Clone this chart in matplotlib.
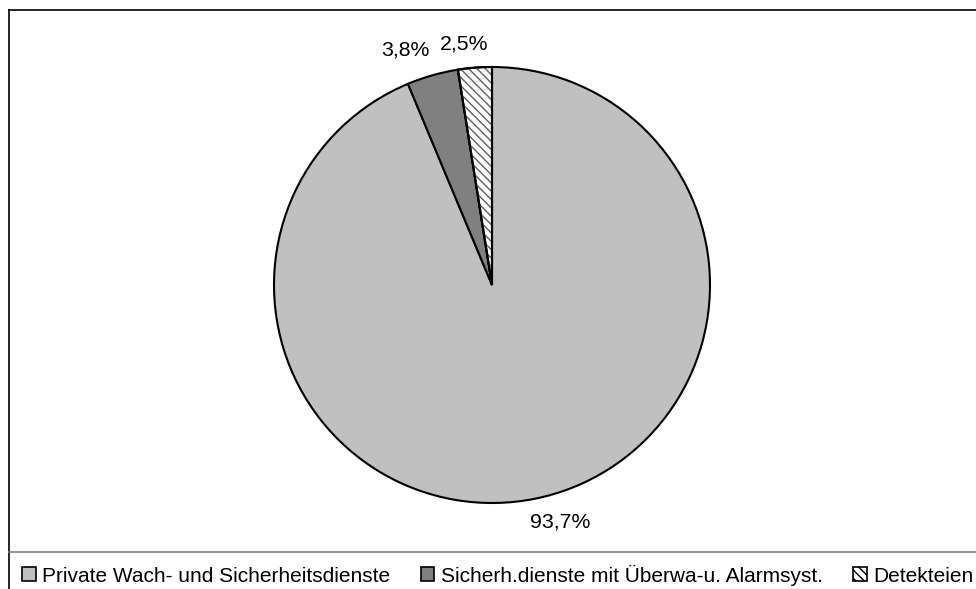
"""Pie chart: Anteile der Sicherheitsdienstleister (Excel-style rebuild)."""

import matplotlib
matplotlib.use("Agg")
import matplotlib.pyplot as plt
import numpy as np
from matplotlib.lines import Line2D
from matplotlib.patches import Patch, Wedge

plt.rcParams["font.family"] = ["Liberation Sans", "DejaVu Sans"]
plt.rcParams["hatch.linewidth"] = 1.0

# data
CATEGORIES = [
    "Private Wach- und Sicherheitsdienste",
    "Sicherh.dienste mit Überwa-u. Alarmsyst.",
    "Detekteien",
]
SHARES = [93.7, 3.8, 2.5]
PCT_LABELS = ["93,7%", "3,8%", "2,5%"]

# style
LIGHT = "#c0c0c0"
DARK = "#808080"
WHITE = "#ffffff"
INK = "#000000"
FILLS = [LIGHT, DARK, WHITE]
HATCHES = [None, None, "\\\\\\\\"]
# small label nudges (in pie-radius units) to mimic Excel's "best fit"
LABEL_NUDGE = [(0.09, 0.023), (-0.087, -0.01), (-0.037, -0.023)]

W, H, DPI = 976, 589, 100
fig = plt.figure(figsize=(W / DPI, H / DPI), dpi=DPI)
fig.patch.set_facecolor(WHITE)

# pie axes: centre (492, 285) px, radius ~218 px
cx, cy, r = 492, 285, 218
ax = fig.add_axes([(cx - r) / W, 1 - (cy + r) / H, 2 * r / W, 2 * r / H])

wedges, _ = ax.pie(
    SHARES,
    colors=FILLS,
    startangle=90,
    counterclock=False,
    radius=1.0,
    wedgeprops=dict(edgecolor=INK, linewidth=1.5),
)
ax.set_xlim(-1, 1)
ax.set_ylim(-1, 1)
ax.set_aspect("equal")
ax.axis("off")

for w, hatch in zip(wedges, HATCHES):
    if hatch:
        ax.add_patch(Wedge(w.center, w.r, w.theta1, w.theta2,
                           facecolor="none", edgecolor="#606060",
                           hatch=hatch, linewidth=0, zorder=w.get_zorder() + 0.1,
                           clip_on=False))
        ax.add_patch(Wedge(w.center, w.r, w.theta1, w.theta2,
                           facecolor="none", edgecolor=INK, linewidth=1.5,
                           zorder=w.get_zorder() + 0.2, clip_on=False))
for w in wedges:
    w.set_clip_on(False)

for w, txt, (nx, ny) in zip(wedges, PCT_LABELS, LABEL_NUDGE):
    mid = np.deg2rad((w.theta1 + w.theta2) / 2)
    x = 1.13 * np.cos(mid) + nx
    y = 1.13 * np.sin(mid) + ny
    ax.text(x, y, txt, ha="center", va="center", fontsize=15.3, color=INK,
            clip_on=False)

# Excel chart-area frame and legend separator
fig.add_artist(Line2D([8.5 / W, 1], [1 - 9.5 / H, 1 - 9.5 / H], color=INK,
                      linewidth=1.2, transform=fig.transFigure))
fig.add_artist(Line2D([8.5 / W, 8.5 / W], [0, 1 - 9.5 / H], color=INK,
                      linewidth=1.2, transform=fig.transFigure))
fig.add_artist(Line2D([8.5 / W, 1], [1 - 552 / H, 1 - 552 / H], color="#808080",
                      linewidth=1.2, transform=fig.transFigure))

handles = [
    Patch(facecolor=c, edgecolor=INK, linewidth=1.2, hatch=h)
    for c, h in zip(FILLS, HATCHES)
]
fig.legend(
    handles,
    CATEGORIES,
    loc="center left",
    bbox_to_anchor=(22 / W, 1 - 575 / H),
    ncol=3,
    frameon=False,
    fontsize=15,
    handlelength=0.67,
    handleheight=0.67,
    handletextpad=0.3,
    columnspacing=1.45,
    borderpad=0,
    borderaxespad=0,
)

fig.savefig("out.png", dpi=DPI, facecolor=WHITE)
